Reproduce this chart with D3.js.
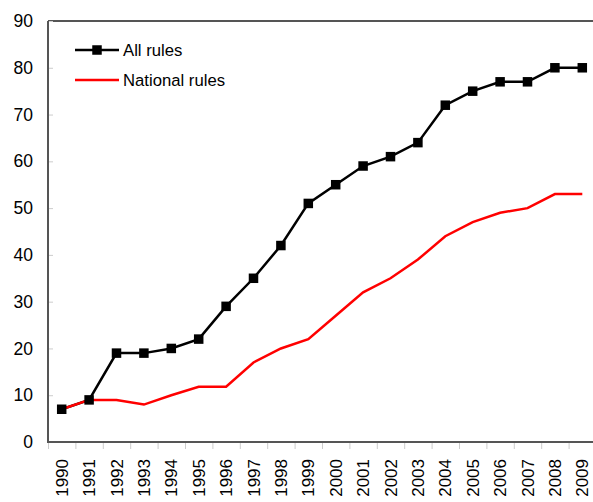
<!DOCTYPE html>
<html>
<head>
<meta charset="utf-8">
<script src="https://cdn.jsdelivr.net/npm/d3@7"></script>
<style>
  body { margin: 0; background: #fff; }
  svg { display: block; font-family: "Liberation Sans", Arial, sans-serif; }
</style>
</head>
<body>
<div id="chart"></div>
<script>
// data
const years = [1990, 1991, 1992, 1993, 1994, 1995, 1996, 1997, 1998, 1999,
               2000, 2001, 2002, 2003, 2004, 2005, 2006, 2007, 2008, 2009];
const allRules = [7, 9, 19, 19, 20, 22, 29, 35, 42, 51,
                  55, 59, 61, 64, 72, 75, 77, 77, 80, 80];
const nationalRules = [7, 9, 9, 8, 10, 11.8, 11.8, 17, 20, 22,
                       27, 32, 35, 39, 44, 47, 49, 50, 53, 53];
const yTicks = [0, 10, 20, 30, 40, 50, 60, 70, 80, 90];
const seriesNames = ["All rules", "National rules"];

const width = 593;
const height = 502;
const margin = { top: 21, right: -3, bottom: 60, left: 48 };

const svg = d3.select("#chart")
    .append("svg")
    .attr("width", width)
    .attr("height", height);

// scales
const x = d3.scaleBand()
    .domain(years)
    .range([margin.left, width - margin.right])
    .padding(0);

const y = d3.scaleLinear()
    .domain([0, 90])
    .range([height - margin.bottom, margin.top]);

const cx = d => x(d) + x.bandwidth() / 2;

// frame top line
svg.append("line")
    .attr("x1", margin.left)
    .attr("x2", width)
    .attr("y1", y(90))
    .attr("y2", y(90))
    .attr("stroke", "#555")
    .attr("stroke-width", 2);

// y-axis
const yAxis = svg.append("g")
    .attr("transform", `translate(${margin.left}, 0)`)
    .call(d3.axisLeft(y).tickValues(yTicks).tickSize(-5).tickPadding(15));
yAxis.select(".domain").remove();
yAxis.selectAll(".tick line").attr("stroke", "#ccc");
yAxis.selectAll(".tick text")
    .attr("font-size", 17.5)
    .attr("font-family", "'Liberation Sans', Arial, sans-serif")
    .attr("fill", "#000");

svg.append("line")
    .attr("x1", margin.left)
    .attr("x2", margin.left)
    .attr("y1", y(90))
    .attr("y2", y(0) + 1)
    .attr("stroke", "#555")
    .attr("stroke-width", 2);

// x-axis ticks sit between categories
const xTickPos = years.map(d => x(d)).concat([x.range()[1]]);
svg.append("g")
    .selectAll("line")
    .data(xTickPos)
    .join("line")
        .attr("x1", d => d + 0.5)
        .attr("x2", d => d + 0.5)
        .attr("y1", y(0))
        .attr("y2", y(0) + 7)
        .attr("stroke", "#ccc");

svg.append("line")
    .attr("x1", margin.left)
    .attr("x2", width)
    .attr("y1", y(0))
    .attr("y2", y(0))
    .attr("stroke", "#555")
    .attr("stroke-width", 2);

svg.append("g")
    .selectAll("text")
    .data(years)
    .join("text")
        .attr("transform", d => `translate(${cx(d) + 6}, ${y(0) + 17}) rotate(-90)`)
        .attr("text-anchor", "end")
        .attr("font-size", 17)
        .attr("fill", "#000")
        .text(d => d);

// lines
const allLine = d3.line()
    .x((d, i) => cx(years[i]))
    .y(d => y(d));

svg.append("path")
    .datum(allRules)
    .attr("fill", "none")
    .attr("stroke", "#000")
    .attr("stroke-width", 2.5)
    .attr("d", allLine);

svg.append("path")
    .datum(nationalRules)
    .attr("fill", "none")
    .attr("stroke", "#ff0000")
    .attr("stroke-width", 2.5)
    .attr("d", allLine);

const sq = 9.5;
svg.append("g")
    .selectAll("rect")
    .data(allRules)
    .join("rect")
        .attr("x", (d, i) => cx(years[i]) - sq / 2)
        .attr("y", d => y(d) - sq / 2)
        .attr("width", sq)
        .attr("height", sq)
        .attr("fill", "#000");

// legend
const legend = svg.append("g");
const legendY = [50, 80];
const legendColors = ["#000", "#ff0000"];
seriesNames.forEach((name, i) => {
    legend.append("line")
        .attr("x1", 75)
        .attr("x2", 119)
        .attr("y1", legendY[i])
        .attr("y2", legendY[i])
        .attr("stroke", legendColors[i])
        .attr("stroke-width", 2.5);
    if (i === 0) {
        legend.append("rect")
            .attr("x", 97 - sq / 2)
            .attr("y", legendY[i] - sq / 2)
            .attr("width", sq)
            .attr("height", sq)
            .attr("fill", "#000");
    }
    legend.append("text")
        .attr("x", 123)
        .attr("y", legendY[i])
        .attr("dy", "0.35em")
        .attr("font-size", 16.7)
        .attr("fill", "#000")
        .text(name);
});
</script>
</body>
</html>
